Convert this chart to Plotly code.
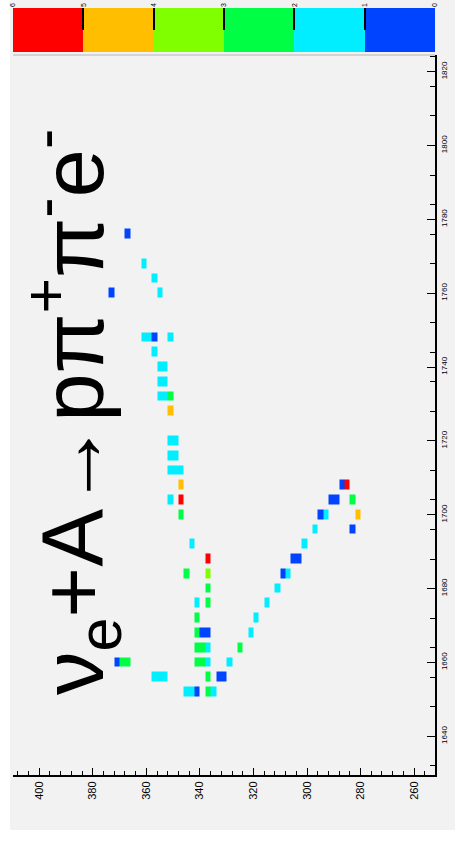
import numpy as np
import plotly.graph_objects as go

# ---- data ----
# horizontal (bottom) axis variable, bin centres (2-unit bins)
cell_u = [367,
          361,
          357,
          373, 355,
          361, 359, 357, 351,
          357,
          355, 353,
          355, 353,
          355, 353, 351,
          351,
          351, 349,
          351, 349,
          351, 349, 347,
          347, 287, 285,
          351, 347, 291, 289, 283,
          347, 295, 293, 281,
          297, 283,
          343, 301,
          337, 305, 303,
          345, 337, 309, 307,
          337, 311,
          341, 337, 315,
          341, 319,
          341, 339, 337, 321,
          341, 339, 337, 325,
          371, 369, 367, 341, 339, 337, 329,
          357, 355, 353, 337, 333, 331,
          345, 343, 341, 337, 335]
# vertical (right) axis variable, bin centres (4-unit bins)
cell_v = [1776,
          1768,
          1764,
          1760, 1760,
          1748, 1748, 1748, 1748,
          1744,
          1740, 1740,
          1736, 1736,
          1732, 1732, 1732,
          1728,
          1720, 1720,
          1716, 1716,
          1712, 1712, 1712,
          1708, 1708, 1708,
          1704, 1704, 1704, 1704, 1704,
          1700, 1700, 1700, 1700,
          1696, 1696,
          1692, 1692,
          1688, 1688, 1688,
          1684, 1684, 1684, 1684,
          1680, 1680,
          1676, 1676, 1676,
          1672, 1672,
          1668, 1668, 1668, 1668,
          1664, 1664, 1664, 1664,
          1660, 1660, 1660, 1660, 1660, 1660, 1660,
          1656, 1656, 1656, 1656, 1656, 1656,
          1652, 1652, 1652, 1652, 1652]
cell_count = [1,
              2,
              2,
              1, 2,
              2, 2, 1, 2,
              2,
              2, 2,
              2, 2,
              2, 2, 3,
              5,
              2, 2,
              2, 2,
              2, 2, 2,
              5, 1, 6,
              2, 6, 1, 1, 3,
              3, 1, 2, 5,
              2, 1,
              2, 2,
              6, 1, 1,
              3, 4, 1, 2,
              3, 2,
              2, 3, 2,
              3, 2,
              3, 1, 1, 2,
              3, 3, 2, 3,
              1, 3, 3, 3, 3, 2, 2,
              2, 2, 2, 3, 1, 1,
              2, 2, 1, 3, 2]

u_ticks = [260, 280, 300, 320, 340, 360, 380, 400]
v_ticks = [1640, 1660, 1680, 1700, 1720, 1740, 1760, 1780, 1800, 1820]
palette_levels = [1, 2, 3, 4, 5, 6]
palette_edges = [0.5, 1.5, 2.5, 3.5, 4.5, 5.5, 6.5]
palette_labels = ["0", "1", "2", "3", "4", "5", "6"]
palette_colors = ["#0044ff", "#00eeff", "#00ff44", "#80ff00", "#ffbf00", "#ff0000"]
title_text = "ν<sub>e</sub>+A→pπ<sup>+</sup>π<sup>-</sup>e<sup>-</sup>"

# ---- build grid ----
u_bins = np.arange(253, 410, 2)
v_bins = np.arange(1632, 1825, 4)
z = np.full((len(v_bins), len(u_bins)), np.nan)
for u, v, c in zip(cell_u, cell_v, cell_count):
    z[int((v - 1632) // 4), int((u - 253) // 2)] = c

cs = []
n = len(palette_colors)
for i, col in enumerate(palette_colors):
    cs.append([i / n, col])
    cs.append([(i + 1) / n, col])

W, H = 455, 845
ml, mr, mt, mb = 13, 20, 8, 70
pw, ph = W - ml - mr, H - mt - mb
main_top = (775 - 55) / ph
pal_bot = (775 - 52) / ph

fig = go.Figure()
fig.add_trace(go.Heatmap(x=u_bins, y=v_bins, z=z, colorscale=cs, zmin=0.5, zmax=6.5,
                         showscale=False, ygap=5, hoverinfo="skip"))
fig.add_trace(go.Heatmap(x=palette_levels, y=[0], z=[palette_levels], colorscale=cs,
                         zmin=0.5, zmax=6.5, showscale=False, xaxis="x2", yaxis="y2",
                         hoverinfo="skip"))

font = "Liberation Sans, Arial, sans-serif"
fig.update_layout(
    width=W, height=H,
    margin=dict(l=ml, r=mr, t=mt, b=mb, pad=0, autoexpand=False),
    paper_bgcolor="#f2f2f2", plot_bgcolor="#f2f2f2",
    showlegend=False,
    font=dict(family=font, color="black"),
    xaxis=dict(domain=[0, 1], anchor="y", range=[409.8, 252.2], automargin=False,
               showline=True, linecolor="black", linewidth=2,
               ticks="inside", ticklen=7, tickwidth=1, tickcolor="black",
               tickvals=u_ticks, ticktext=[str(t) for t in u_ticks],
               tickangle=-90, tickfont=dict(size=11), ticklabeloverflow="allow",
               minor=dict(dtick=4, tick0=260, ticks="inside", ticklen=4, tickcolor="black"),
               showgrid=False, zeroline=False),
    yaxis=dict(domain=[0, main_top], anchor="x", range=[1629.5, 1824.5], side="right",
               automargin=False,
               showline=True, linecolor="black", linewidth=2,
               ticks="inside", ticklen=8, tickwidth=1, tickcolor="black",
               tickvals=v_ticks, ticktext=[str(t) for t in v_ticks],
               tickangle=-90, tickfont=dict(size=8), ticklabeloverflow="allow",
               minor=dict(dtick=8, tick0=1640, ticks="inside", ticklen=5, tickcolor="black"),
               showgrid=False, zeroline=False),
    xaxis2=dict(domain=[0, 1], anchor="y2", range=[6.5, 0.5], side="top", automargin=False,
                ticks="inside", ticklen=22, tickwidth=2, tickcolor="black",
                tickvals=palette_edges, ticktext=palette_labels, tickangle=-90,
                tickfont=dict(size=7), ticklabeloverflow="allow",
                showgrid=False, zeroline=False, showline=False),
    yaxis2=dict(domain=[pal_bot, 1], anchor="x2", range=[-0.5, 0.5], visible=False,
                automargin=False),
)

x_left_white = (10 - ml) / pw
fig.add_shape(type="rect", xref="paper", yref="paper", x0=-ml / pw, x1=x_left_white,
              y0=-mb / ph, y1=1 + mt / ph, fillcolor="white", line_width=0, layer="below")
fig.add_shape(type="rect", xref="paper", yref="paper", x0=-ml / pw, x1=1 + mr / pw,
              y0=-mb / ph, y1=(775 - 830) / ph, fillcolor="white", line_width=0, layer="below")
fig.add_shape(type="line", xref="paper", yref="paper", x0=0, x1=1, y0=main_top, y1=main_top,
              line=dict(color="#b4b4b4", width=1))

fig.add_annotation(text=title_text, xref="paper", yref="paper",
                   x=(72 - ml) / pw, y=(775 - 412) / ph, textangle=-90,
                   showarrow=False, xanchor="center", yanchor="middle",
                   font=dict(size=87, family=font, color="black"))

fig.write_html("out.html", config={"displayModeBar": False},
               post_script="document.body.style.margin='0';document.body.style.overflow='hidden';")
